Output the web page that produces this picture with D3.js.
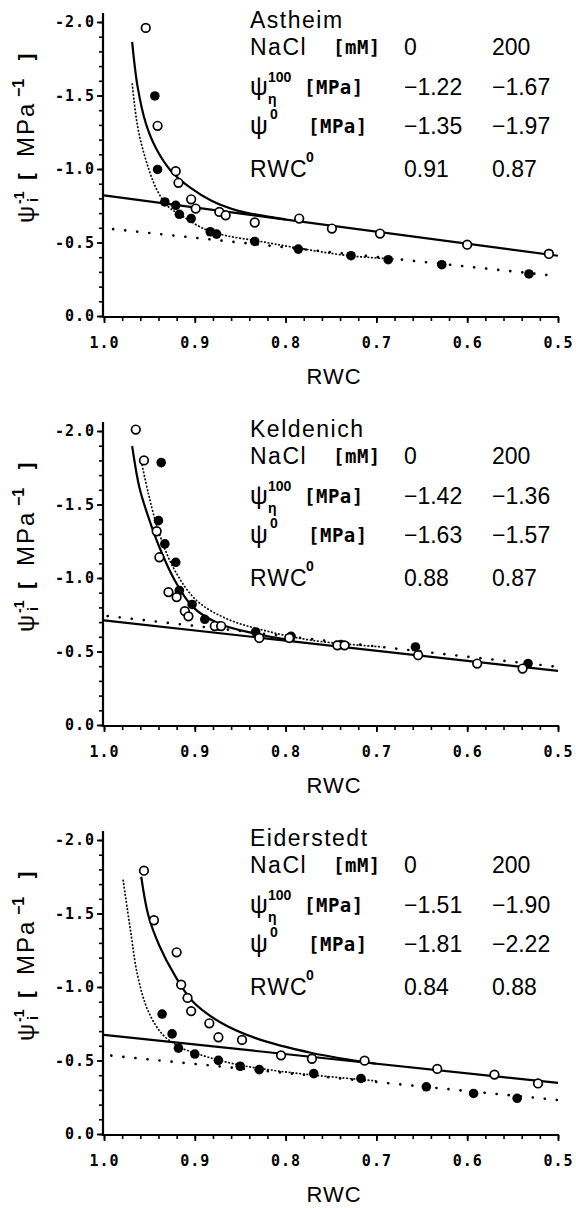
<!DOCTYPE html>
<html><head><meta charset="utf-8">
<script src="https://cdn.jsdelivr.net/npm/d3@7"></script>
<style>body{margin:0;background:#fff} svg{display:block}</style>
</head><body><svg id="c" width="576" height="1208"></svg>
<script>
// ---------- data (RWC, psi^-1 in MPa^-1) ----------
const panelNames = ["Astheim", "Keldenich", "Eiderstedt"];
const naclLevels = ["0", "200"];
const psiPi100 = [["−1.22", "−1.67"], ["−1.42", "−1.36"], ["−1.51", "−1.90"]];
const psi0 = [["−1.35", "−1.97"], ["−1.63", "−1.57"], ["−1.81", "−2.22"]];
const rwc0 = [["0.91", "0.87"], ["0.88", "0.87"], ["0.84", "0.88"]];
const xTicks = [1.0, 0.9, 0.8, 0.7, 0.6, 0.5];
const yTicks = [0, -0.5, -1.0, -1.5, -2.0];

// Astheim
const astheimOpen = [[0.954,-1.96],[0.941,-1.294],[0.921,-0.985],[0.918,-0.906],[0.904,-0.794],[0.899,-0.731],
  [0.873,-0.708],[0.866,-0.685],[0.834,-0.636],[0.785,-0.663],[0.749,-0.595],[0.696,-0.561],[0.600,-0.485],[0.510,-0.422]];
const astheimFilled = [[0.944,-1.497],[0.941,-0.997],[0.933,-0.776],[0.921,-0.753],[0.917,-0.692],[0.904,-0.663],
  [0.883,-0.573],[0.876,-0.557],[0.834,-0.507],[0.786,-0.455],[0.728,-0.410],[0.687,-0.383],[0.628,-0.349],[0.532,-0.286],[0.510,-0.425]];
const astheimCurve0 = [[0.969,-1.865],[0.963,-1.56],[0.954,-1.312],[0.942,-1.132],[0.926,-0.985],[0.905,-0.873],
  [0.881,-0.782],[0.852,-0.715],[0.824,-0.681],[0.80,-0.657]];
const astheimCurve200 = [[0.969,-1.583],[0.963,-1.29],[0.954,-1.064],[0.942,-0.861],[0.930,-0.749],[0.914,-0.681],
  [0.889,-0.591],[0.865,-0.546],[0.832,-0.512],[0.791,-0.467],[0.730,-0.41],[0.681,-0.388]];
const astheimLine0 = [[1.0,-0.821],[0.5,-0.41]];
const astheimLine200 = [[0.99,-0.591],[0.5,-0.271]];

// Keldenich
const keldenichOpen = [[0.965,-2.01],[0.956,-1.80],[0.942,-1.318],[0.939,-1.141],[0.929,-0.904],[0.920,-0.870],
  [0.911,-0.775],[0.907,-0.739],[0.878,-0.673],[0.871,-0.673],[0.829,-0.592],[0.796,-0.592],[0.743,-0.542],[0.735,-0.542],
  [0.654,-0.475],[0.589,-0.418],[0.539,-0.384]];
const keldenichFilled = [[0.937,-1.785],[0.940,-1.39],[0.933,-1.232],[0.921,-1.107],[0.917,-0.915],[0.903,-0.82],
  [0.889,-0.719],[0.873,-0.673],[0.833,-0.633],[0.794,-0.603],[0.739,-0.547],[0.657,-0.531],[0.533,-0.418]];
const keldenichCurve0 = [[0.969,-1.898],[0.961,-1.616],[0.951,-1.412],[0.939,-1.209],[0.922,-0.983],[0.902,-0.802],
  [0.873,-0.689],[0.833,-0.621],[0.79,-0.574]];
const keldenichCurve200 = [[0.959,-1.797],[0.951,-1.571],[0.939,-1.299],[0.922,-1.051],[0.898,-0.847],[0.865,-0.723],
  [0.824,-0.644],[0.771,-0.576],[0.694,-0.531]];
const keldenichLine0 = [[1.0,-0.712],[0.5,-0.368]];
const keldenichLine200 = [[0.996,-0.741],[0.5,-0.395]];

// Eiderstedt
const eiderstedtOpen = [[0.956,-1.791],[0.945,-1.454],[0.920,-1.236],[0.915,-1.016],[0.908,-0.926],[0.904,-0.836],
  [0.884,-0.753],[0.874,-0.658],[0.848,-0.640],[0.805,-0.535],[0.771,-0.512],[0.713,-0.499],[0.633,-0.443],[0.570,-0.404],[0.522,-0.344]];
const eiderstedtFilled = [[0.936,-0.816],[0.925,-0.681],[0.918,-0.584],[0.900,-0.544],[0.874,-0.501],[0.850,-0.461],
  [0.829,-0.438],[0.769,-0.411],[0.717,-0.378],[0.645,-0.321],[0.593,-0.276],[0.545,-0.243]];
const eiderstedtCurve0 = [[0.959,-1.75],[0.951,-1.483],[0.939,-1.281],[0.922,-1.079],[0.902,-0.899],[0.873,-0.764],
  [0.833,-0.652],[0.771,-0.551],[0.70,-0.478]];
const eiderstedtCurve200 = [[0.979,-1.73],[0.971,-1.393],[0.963,-1.079],[0.951,-0.831],[0.935,-0.674],[0.914,-0.584],
  [0.894,-0.539],[0.853,-0.472],[0.792,-0.416],[0.698,-0.360]];
const eiderstedtLine0 = [[1.0,-0.674],[0.5,-0.348]];
const eiderstedtLine200 = [[0.992,-0.533],[0.5,-0.231]];

const panels = [
  {open: astheimOpen, filled: astheimFilled, c0: astheimCurve0, c200: astheimCurve200, l0: astheimLine0, l200: astheimLine200},
  {open: keldenichOpen, filled: keldenichFilled, c0: keldenichCurve0, c200: keldenichCurve200, l0: keldenichLine0, l200: keldenichLine200},
  {open: eiderstedtOpen, filled: eiderstedtFilled, c0: eiderstedtCurve0, c200: eiderstedtCurve200, l0: eiderstedtLine0, l200: eiderstedtLine200}
];

// ---------- drawing ----------
const svg = d3.select("#c");
const tops = [22, 431, 840];
const plotH = 294;
const x = d3.scaleLinear().domain([1.0, 0.5]).range([104, 558]);
const tickFont = "'DejaVu Sans Mono', monospace";
const sansFont = "'Liberation Sans', Arial, sans-serif";

panels.forEach((p, i) => {
  const t = tops[i];
  const y = d3.scaleLinear().domain([0, -2]).range([t + plotH, t]);
  const g = svg.append("g");

  // y axis minor ticks
  const minorY = d3.range(0, 21).map(k => -k / 10);
  g.append("g").attr("transform", "translate(103,0)")
    .call(d3.axisLeft(y).tickValues(minorY).tickSize(4).tickFormat("").tickSizeOuter(0))
    .call(a => a.select(".domain").remove())
    .selectAll("line").attr("stroke-width", 1.6);
  // y axis major
  const ya = g.append("g").attr("transform", "translate(103,0)")
    .call(d3.axisLeft(y).tickValues(yTicks).tickSize(6).tickPadding(2).tickSizeOuter(0)
      .tickFormat(d => d === 0 ? "0.0" : d3.format(".1f")(d).replace("−", "-")));
  ya.select(".domain").remove();
  ya.selectAll("line").attr("stroke-width", 1.8);
  ya.selectAll("text").attr("font-family", tickFont).attr("font-weight", "bold")
    .attr("font-size", 15).attr("letter-spacing", 1).attr("fill", "#000");
  g.append("line").attr("x1", 103).attr("x2", 103).attr("y1", t - 9).attr("y2", t + plotH + 2)
    .attr("stroke", "#000").attr("stroke-width", 2.2);

  // x axis
  const minorX = d3.range(0, 26).map(k => 1 - k * 0.02);
  g.append("g").attr("transform", `translate(0,${t + plotH + 1})`)
    .call(d3.axisBottom(x).tickValues(minorX).tickSize(4).tickFormat("").tickSizeOuter(0))
    .call(a => a.select(".domain").remove())
    .selectAll("line").attr("stroke-width", 1.6);
  const xa = g.append("g").attr("transform", `translate(0,${t + plotH + 1})`)
    .call(d3.axisBottom(x).tickValues(xTicks).tickSize(6).tickPadding(14).tickSizeOuter(0).tickFormat(d3.format(".1f")));
  xa.select(".domain").remove();
  xa.selectAll("line").attr("stroke-width", 1.8);
  xa.selectAll("text").attr("font-family", tickFont).attr("font-weight", "bold")
    .attr("font-size", 15).attr("letter-spacing", 1).attr("fill", "#000");
  g.append("line").attr("x1", 102).attr("x2", 559).attr("y1", t + plotH + 1).attr("y2", t + plotH + 1)
    .attr("stroke", "#000").attr("stroke-width", 2.2);

  // x title
  g.append("text").attr("x", 334).attr("y", t + plotH + 68).attr("text-anchor", "middle")
    .attr("font-family", sansFont).attr("font-size", 22).attr("letter-spacing", 1).text("RWC");

  // y title (rotated)
  const yl = g.append("g").attr("transform", `translate(34,${t + 201}) rotate(-90)`)
    .attr("font-family", sansFont).attr("fill", "#000");
  yl.append("text").attr("x", 0).attr("y", 0).attr("font-size", 24).text("ψ");
  yl.append("text").attr("x", 19).attr("y", -10).attr("font-size", 14).attr("font-weight", "bold").text("-1");
  yl.append("text").attr("x", 21).attr("y", 4).attr("font-size", 14).attr("font-weight", "bold").text("i");
  yl.append("text").attr("x", 40).attr("y", 0).attr("font-size", 21).attr("font-family", tickFont).attr("font-weight", "bold").text("[");
  yl.append("text").attr("x", 66).attr("y", 0).attr("font-size", 24).attr("letter-spacing", 2).text("MPa");
  yl.append("text").attr("x", 126).attr("y", -10).attr("font-size", 16).attr("font-weight", "bold").text("−1");
  yl.append("text").attr("x", 160).attr("y", 0).attr("font-size", 21).attr("font-family", tickFont).attr("font-weight", "bold").text("]");

  // lines
  const line = d3.line().x(d => x(d[0])).y(d => y(d[1]));
  const curve = d3.line().x(d => x(d[0])).y(d => y(d[1])).curve(d3.curveCatmullRom.alpha(0.5));
  g.append("path").attr("d", line(p.l0)).attr("fill", "none").attr("stroke", "#000").attr("stroke-width", 2.2);
  g.append("path").attr("d", line(p.l200)).attr("fill", "none").attr("stroke", "#000").attr("stroke-width", 2.6)
    .attr("stroke-linecap", "round").attr("stroke-dasharray", "0.1,12");
  g.append("path").attr("d", curve(p.c0)).attr("fill", "none").attr("stroke", "#000").attr("stroke-width", 2.2);
  g.append("path").attr("d", curve(p.c200)).attr("fill", "none").attr("stroke", "#000").attr("stroke-width", 1.6)
    .attr("stroke-dasharray", "2,1.6");

  // markers
  g.selectAll(".f").data(p.filled).join("circle").attr("class", "f")
    .attr("cx", d => x(d[0])).attr("cy", d => y(d[1])).attr("r", 4.8).attr("fill", "#000");
  g.selectAll(".o").data(p.open).join("circle").attr("class", "o")
    .attr("cx", d => x(d[0])).attr("cy", d => y(d[1])).attr("r", 4.3)
    .attr("fill", "#fff").attr("stroke", "#000").attr("stroke-width", 1.7);

  // text block
  const tb = g.append("g").attr("font-family", sansFont).attr("fill", "#000");
  const X0 = 250, XU = 333, XC1 = 404, XC2 = 492;
  const big = 23;
  const unit = (xx, yy, s) => tb.append("text").attr("x", xx).attr("y", yy).attr("font-size", 19)
    .attr("font-family", tickFont).attr("font-weight", "bold").attr("letter-spacing", 0.5).text(s);
  tb.append("text").attr("x", X0).attr("y", t + 6).attr("font-size", big).attr("letter-spacing", 1.5).text(panelNames[i]);
  tb.append("text").attr("x", X0).attr("y", t + 33).attr("font-size", big).attr("letter-spacing", 1.5).text("NaCl");
  unit(XU, t + 32, "[mM]");
  tb.append("text").attr("x", XC1).attr("y", t + 33).attr("font-size", big).text(naclLevels[0]);
  tb.append("text").attr("x", XC2).attr("y", t + 33).attr("font-size", big).text(naclLevels[1]);
  // psi_pi^100
  tb.append("text").attr("x", X0).attr("y", t + 73).attr("font-size", big + 2).text("ψ");
  tb.append("text").attr("x", X0 + 18).attr("y", t + 82).attr("font-size", 14).attr("font-weight", "bold").text("η");
  tb.append("text").attr("x", X0 + 18).attr("y", t + 60).attr("font-size", 14).attr("font-weight", "bold").text("100");
  unit(X0 + 54, t + 72, "[MPa]");
  tb.append("text").attr("x", XC1).attr("y", t + 73).attr("font-size", big).text(psiPi100[i][0]);
  tb.append("text").attr("x", XC2).attr("y", t + 73).attr("font-size", big).text(psiPi100[i][1]);
  // psi^0
  tb.append("text").attr("x", X0).attr("y", t + 112).attr("font-size", big + 2).text("ψ");
  tb.append("text").attr("x", X0 + 20).attr("y", t + 97).attr("font-size", 14).attr("font-weight", "bold").text("0");
  unit(X0 + 58, t + 111, "[MPa]");
  tb.append("text").attr("x", XC1).attr("y", t + 112).attr("font-size", big).text(psi0[i][0]);
  tb.append("text").attr("x", XC2).attr("y", t + 112).attr("font-size", big).text(psi0[i][1]);
  // RWC^0
  tb.append("text").attr("x", X0).attr("y", t + 155).attr("font-size", big).attr("letter-spacing", 1).text("RWC");
  tb.append("text").attr("x", X0 + 56).attr("y", t + 140).attr("font-size", 14).attr("font-weight", "bold").text("0");
  tb.append("text").attr("x", XC1).attr("y", t + 155).attr("font-size", big).text(rwc0[i][0]);
  tb.append("text").attr("x", XC2).attr("y", t + 155).attr("font-size", big).text(rwc0[i][1]);
});
</script></body></html>
